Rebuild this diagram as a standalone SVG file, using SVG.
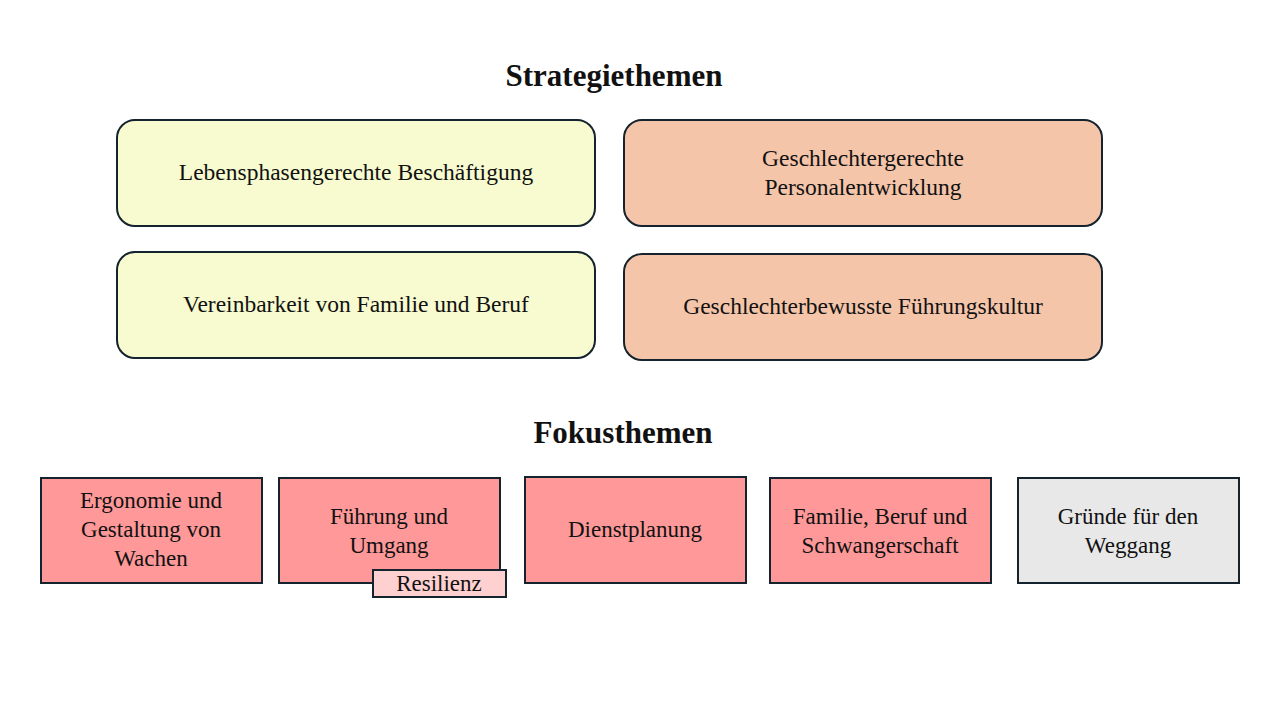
<svg xmlns="http://www.w3.org/2000/svg" width="1280" height="720" viewBox="0 0 1280 720">
<style>
text{font-family:"Liberation Serif","DejaVu Serif",serif;fill:#111;text-anchor:middle}
.t{font-size:31px;font-weight:bold}
.s{font-size:23.5px}
.f{font-size:23px}
.box{stroke:#14232e;stroke-width:2}
</style>
<rect width="1280" height="720" fill="#fff"/>
<text class="t" x="614" y="86">Strategiethemen</text>
<text class="t" x="623" y="443">Fokusthemen</text>
<g id="n1"><rect class="box" x="117" y="120" width="478" height="106" rx="18" fill="#f7fbcf"/><text class="s" x="356" y="180">Lebensphasengerechte Beschäftigung</text></g>
<g id="n2"><rect class="box" x="624" y="120" width="478" height="106" rx="18" fill="#f5c5aa"/><text class="s" x="863" y="166">Geschlechtergerechte</text><text class="s" x="863" y="195">Personalentwicklung</text></g>
<g id="n3"><rect class="box" x="117" y="252" width="478" height="106" rx="18" fill="#f7fbcf"/><text class="s" x="356" y="312">Vereinbarkeit von Familie und Beruf</text></g>
<g id="n4"><rect class="box" x="624" y="254" width="478" height="106" rx="18" fill="#f5c5aa"/><text class="s" x="863" y="314">Geschlechterbewusste Führungskultur</text></g>
<g id="n5"><rect class="box" x="41" y="478" width="221" height="105" fill="#ff9999"/><text class="f" x="151" y="508">Ergonomie und</text><text class="f" x="151" y="537">Gestaltung von</text><text class="f" x="151" y="566">Wachen</text></g>
<g id="n6"><rect class="box" x="279" y="478" width="221" height="105" fill="#ff9999"/><text class="f" x="389" y="524">Führung und</text><text class="f" x="389" y="553">Umgang</text></g>
<g id="n7"><rect class="box" x="373" y="570" width="133" height="27" fill="#ffd0d0"/><text class="f" x="439" y="591">Resilienz</text></g>
<g id="n8"><rect class="box" x="525" y="477" width="221" height="106" fill="#ff9999"/><text class="f" x="635" y="537">Dienstplanung</text></g>
<g id="n9"><rect class="box" x="770" y="478" width="221" height="105" fill="#ff9999"/><text class="f" x="880" y="524">Familie, Beruf und</text><text class="f" x="880" y="553">Schwangerschaft</text></g>
<g id="n10"><rect class="box" x="1018" y="478" width="221" height="105" fill="#e8e8e8"/><text class="f" x="1128" y="524">Gründe für den</text><text class="f" x="1128" y="553">Weggang</text></g>
<g id="connectors"/>
</svg>
